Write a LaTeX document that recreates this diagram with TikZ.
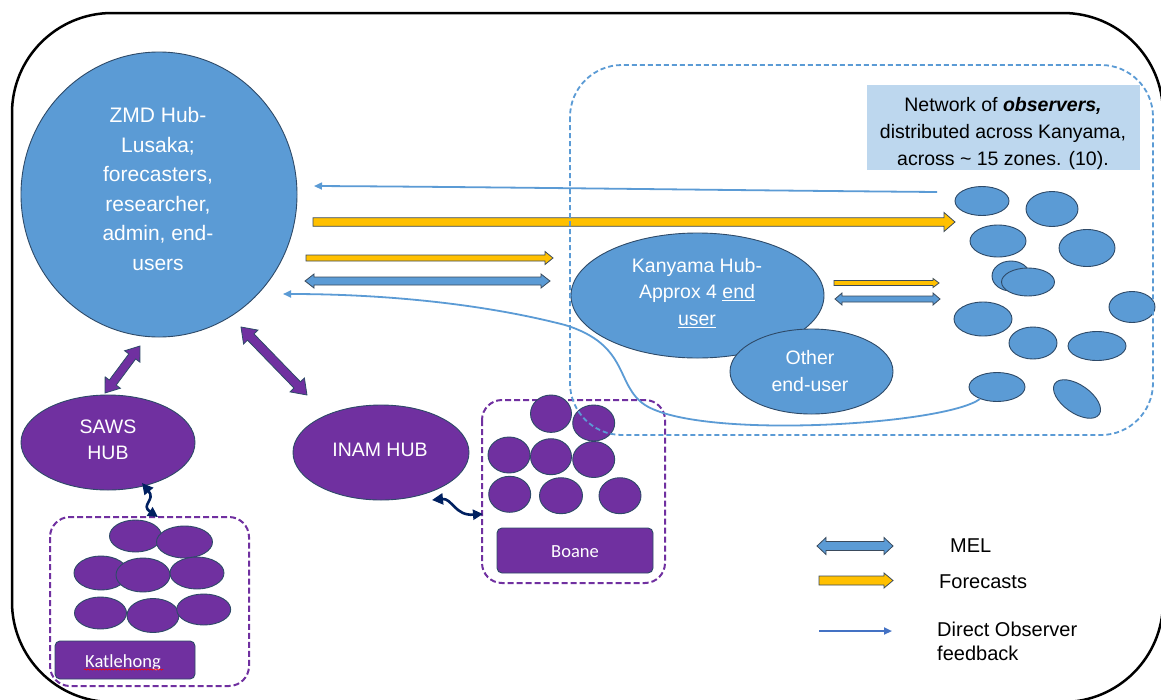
\documentclass[tikz,border=0pt]{standalone}
\usepackage{fontspec}
\setmainfont{Liberation Sans}
\newfontfamily\calibri{Carlito}
\usetikzlibrary{shapes.geometric,arrows.meta,decorations.pathmorphing,calc}

\definecolor{obsblue}{HTML}{5B9BD5}
\definecolor{edgeblue}{HTML}{2E4A68}
\definecolor{hubpurple}{HTML}{7030A0}
\definecolor{gold}{HTML}{FFC000}
\definecolor{paleblue}{HTML}{BDD7EE}
\definecolor{navy}{HTML}{002060}
\definecolor{arrowedge}{HTML}{3A4A5C}
\definecolor{fbblue}{HTML}{5B9BD5}
\definecolor{legblue}{HTML}{4472C4}

% block arrow: #1 style, #2 from, #3 to, #4 shaft, #5 head width, #6 head length, #7 double (1) / single (0)
\newcommand\blockarrow[7]{%
  \pgfpointdiff{\pgfpointanchor{#2}{center}}{\pgfpointanchor{#3}{center}}%
  \pgfgetlastxy{\BAdx}{\BAdy}%
  \pgfmathsetmacro\BAlen{veclen(\BAdx,\BAdy)}%
  \pgfmathsetmacro\BAang{atan2(\BAdy,\BAdx)}%
  \pgfmathsetmacro\BAs{#4/2}\pgfmathsetmacro\BAh{#5/2}%
  \pgfmathsetmacro\BAb{\BAlen-#6}%
  \begin{scope}[shift={(#2)},rotate=\BAang,x=1pt,y=1pt]
   \ifnum#7=1
    \draw[#1] (0,0) -- (#6,\BAh) -- (#6,\BAs) -- (\BAb,\BAs) -- (\BAb,\BAh) -- (\BAlen,0)
      -- (\BAb,-\BAh) -- (\BAb,-\BAs) -- (#6,-\BAs) -- (#6,-\BAh) -- cycle;
   \else
    \draw[#1] (0,\BAs) -- (\BAb,\BAs) -- (\BAb,\BAh) -- (\BAlen,0) -- (\BAb,-\BAh)
      -- (\BAb,-\BAs) -- (0,-\BAs) -- cycle;
   \fi
  \end{scope}}

\newcommand\obsnode[6]{\node[#1, minimum width=#5*2pt, minimum height=#6*2pt] (#2) at (#3,#4) {};}

\tikzset{
  obs/.style={ellipse, draw=edgeblue, fill=obsblue, line width=0.9pt, inner sep=0pt},
  pobs/.style={ellipse, draw=edgeblue, fill=hubpurple, line width=0.9pt, inner sep=0pt},
  wtext/.style={text=white, align=center, inner sep=0pt, font=\fontsize{19.5}{26.5}\selectfont},
  btext/.style={text=black, inner sep=0pt, font=\fontsize{20}{24.5}\selectfont},
  yarrow/.style={fill=gold, draw=arrowedge, line width=0.8pt, line join=miter},
  barrow/.style={fill=obsblue, draw=arrowedge, line width=0.8pt, line join=miter},
  parrow/.style={fill=hubpurple, draw=edgeblue, line width=0.8pt, line join=miter},
  fb/.style={draw=fbblue, line width=1.8pt, -{Triangle[length=8pt,width=7pt]}},
  wavy/.style={draw=navy, line width=2.6pt, {Triangle[length=11pt,width=11pt]}-{Triangle[length=10pt,width=10pt]}},
  pdash/.style={draw=hubpurple, line width=2pt, dash pattern=on 6pt off 3pt, rounded corners=20pt},
  bdash/.style={draw=obsblue, line width=1.8pt, dash pattern=on 5pt off 3pt},
  tagbox/.style={fill=hubpurple, draw=edgeblue, line width=0.9pt, rounded corners=5pt},
  tagtext/.style={text=white, inner sep=0pt, font=\calibri\fontsize{18.5}{22}\selectfont}
}

\begin{document}
\begin{tikzpicture}[x=1pt,y=-1pt]
\useasboundingbox (0,0) rectangle (1161,699);
\clip (0,0) rectangle (1161,699);
\fill[white] (0,0) rectangle (1161,699);

% outer frame
\draw[line width=2.5pt, rounded corners=100pt] (12,13) rectangle (1163,702);

% ---------------- Katlehong cluster
\draw[pdash] (50,517) rectangle (249,686);
\obsnode{pobs}{k1}{135.5}{536}{26}{16}
\obsnode{pobs}{k2}{184.5}{542}{28}{16}
\obsnode{pobs}{k3}{101}{573}{27}{17}
\obsnode{pobs}{k4}{143}{575}{27}{17}
\obsnode{pobs}{k5}{197}{573}{27}{16}
\obsnode{pobs}{k6}{100.5}{613}{26}{16}
\obsnode{pobs}{k7}{153}{615.5}{26}{17}
\obsnode{pobs}{k8}{203.7}{609.5}{27}{15.5}
\draw[tagbox] (55,641) rectangle (195,679);
\node[tagtext, anchor=base] (katl) at (123,667) {Katlehong};
\draw[red, line width=0.6pt, decorate, decoration={snake, amplitude=0.6pt, segment length=3pt}] (84,669.5) -- (163,669.5);

% ---------------- Boane cluster
\draw[pdash] (482,400) rectangle (665,583);
\obsnode{pobs}{b1}{551}{413.7}{20.5}{18.7}
\obsnode{pobs}{b2}{593.7}{423}{21}{18}
\obsnode{pobs}{b3}{509}{455}{21}{18}
\obsnode{pobs}{b4}{551}{456.7}{20.5}{18}
\obsnode{pobs}{b5}{593.7}{459.5}{21}{18}
\obsnode{pobs}{b6}{509.7}{494.3}{21}{18}
\obsnode{pobs}{b7}{561}{495.7}{21.5}{18}
\obsnode{pobs}{b8}{620}{495.7}{21}{18}
\draw[tagbox] (497,528) rectangle (653,573);
\node[tagtext, anchor=base] (boane) at (575,557) {Boane};

% ---------------- hubs
\obsnode{obs}{zmd}{159}{194.5}{138}{142.5}
\node[wtext, font=\fontsize{21}{29.5}\selectfont] (zmdt) at (158,189)
  {ZMD Hub-\\Lusaka;\\forecasters,\\researcher,\\admin, end-\\users};

\obsnode{pobs}{saws}{108}{442.5}{87}{47.5}
\node[wtext, font=\fontsize{19.5}{26}\selectfont] (sawst) at (108,440) {SAWS\\HUB};

\obsnode{pobs}{inam}{381}{452.5}{88}{47.5}
\node[wtext] (inamt) at (380,450) {INAM HUB};

\obsnode{obs}{kany}{697.5}{295.5}{126.5}{62.5}
\node[wtext] (kanyt) at (697,293) {Kanyama Hub-\\Approx 4 \underline{end}\\\underline{user}};

\obsnode{obs}{other}{811.5}{371.5}{81.5}{42.5}
\node[wtext, font=\fontsize{19.5}{27}\selectfont] (othert) at (810,371.5) {Other\\end-user};

% ---------------- network box and observers
\node[fill=paleblue, minimum width=273pt, minimum height=85pt, inner sep=0pt] (netbox) at (1003.5,127.5) {};
\node[text=black, align=center, inner sep=0pt, font=\fontsize{19.5}{27}\selectfont] (nett) at (1003,133)
  {Network of \textbf{\textit{observers,}}\\distributed across Kanyama,\\across \textasciitilde{} 15 zones. (10).};

\obsnode{obs}{o1}{982}{201}{27}{14.5}
\obsnode{obs}{o2}{1052}{209}{26}{17.5}
\obsnode{obs}{o3}{998}{241}{28}{16}
\obsnode{obs}{o4}{1087}{248}{28}{18.5}
\obsnode{obs}{o5}{1011}{276}{19}{15}
\obsnode{obs}{o6}{1028}{282}{26.5}{14}
\obsnode{obs}{o7}{1132}{307}{23}{15.5}
\obsnode{obs}{o8}{983}{319}{29}{17}
\obsnode{obs}{o9}{1033}{343}{24}{16}
\obsnode{obs}{o10}{1097}{346}{29}{14.5}
\obsnode{obs}{o11}{997}{387}{28}{14.5}
\node[obs, minimum width=54pt, minimum height=28pt, rotate=-35] (o12) at (1077,399) {};

% ---------------- connector end points
\coordinate (zs1) at (140,346);  \coordinate (zs2) at (105,393);
\coordinate (zi1) at (241,327);  \coordinate (zi2) at (307,395);
\coordinate (fy1) at (313,222);  \coordinate (fy2) at (955,222);
\coordinate (y2a) at (306,258);  \coordinate (y2b) at (553,258);
\coordinate (m1a) at (305,281);  \coordinate (m1b) at (550,281);
\coordinate (y3a) at (834,283);  \coordinate (y3b) at (939,283);
\coordinate (m2a) at (835,299);  \coordinate (m2b) at (940,299);
\coordinate (fbtop) at (937,192); \coordinate (fbtopend) at (314,186);
\coordinate (fbend) at (283,294);
\coordinate (ws1) at (142,483);  \coordinate (ws2) at (158,517);
\coordinate (wi1) at (432,500);  \coordinate (wi2) at (483,514);

% purple hub links
\blockarrow{parrow}{zs1}{zs2}{8.5}{19}{13}{1}
\blockarrow{parrow}{zi1}{zi2}{9}{20}{14}{1}

% wavy links
\draw[wavy] (ws1) .. controls (156,500) and (140,505) .. (ws2);
\draw[wavy] (wi1) .. controls (452,498) and (455,516) .. (wi2);

% forecasts and MEL arrows
\blockarrow{yarrow}{fy1}{fy2}{8.5}{19}{11}{0}
\blockarrow{yarrow}{y2a}{y2b}{6}{13}{8}{0}
\blockarrow{barrow}{m1a}{m1b}{8}{14}{9}{1}
\blockarrow{yarrow}{y3a}{y3b}{5}{9}{6}{0}
\blockarrow{barrow}{m2a}{m2b}{6}{12}{7}{1}

% dashed Kanyama region
\draw[bdash, rounded corners=52pt] (570,65) rectangle (1153,435);

% direct observer feedback
\draw[fb] (fbtop) .. controls (700,190) and (500,187) .. (fbtopend);
\draw[fb] (o11.215) .. controls (945,425) and (700,440) .. (645,405)
   .. controls (615,385) and (630,345) .. (565,325)
   .. controls (480,303) and (380,294) .. (fbend);

% ---------------- legend
\coordinate (lm1) at (817,546);   \coordinate (lm2) at (893,546);
\coordinate (lf1) at (819,580.5); \coordinate (lf2) at (893,580.5);
\coordinate (ld1) at (819,631);   \coordinate (ld2) at (892,631);
\blockarrow{barrow}{lm1}{lm2}{9}{17}{9}{1}
\blockarrow{yarrow}{lf1}{lf2}{9}{15}{9}{0}
\draw[fb, draw=legblue, line width=2.2pt] (ld1) -- (ld2);
\node[btext, anchor=base west] (lmel) at (950,552) {MEL};
\node[btext, anchor=base west] (lfor) at (939,588) {Forecasts};
\node[btext, anchor=north west, align=left] (ldir) at (937,621.7) {Direct Observer\\feedback};
\end{tikzpicture}
\end{document}
